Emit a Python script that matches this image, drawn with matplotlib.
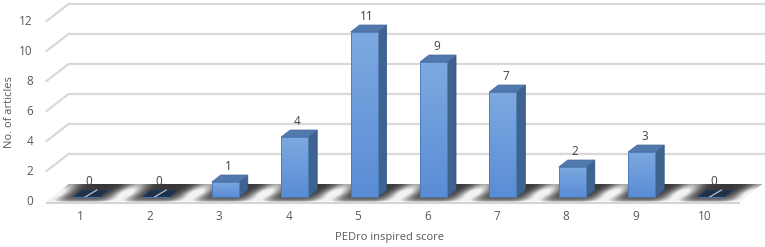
import numpy as np
import matplotlib.pyplot as plt
from matplotlib.patches import Polygon
from matplotlib.colors import LinearSegmentedColormap

# data
scores = [1, 2, 3, 4, 5, 6, 7, 8, 9, 10]
articles = [0, 0, 1, 4, 11, 9, 7, 2, 3, 0]
y_ticks = [0, 2, 4, 6, 8, 10, 12]

plt.rcParams['font.family'] = ['Open Sans', 'DejaVu Sans']
txt = '#595959'

fig = plt.figure(figsize=(7.65, 2.47), dpi=100)
ax = fig.add_axes([0, 0, 1, 1])
ax.set_xlim(-0.246, 10.777)
ax.set_ylim(-3.333, 13.133)
ax.axis('off')

# fake 3d: one unit of depth moves this far in x / y
ddx, ddy = 0.13, 0.467
d0, d1 = -0.67, 1.86   # floor front / back depth
w = 0.39
x_lo, x_hi = 0.5, 10.5

def pt(x, y, d):
    return (x + d * ddx, y + d * ddy)

# gridlines: left side wall + back wall
for v in y_ticks[1:]:
    a = pt(x_lo, v, d0)
    b = pt(x_lo, v, d1)
    ax.plot([a[0], b[0], 12], [a[1], b[1], b[1]], color='#d9d9d9', lw=1.6,
            solid_capstyle='butt', zorder=1)

# floor with shaded streaks between bars
fx0, fx1 = pt(x_lo, 0, d0)[0], pt(x_hi, 0, d1)[0]
fy0, fy1 = d0 * ddy, d1 * ddy
X, Y = np.meshgrid(np.linspace(fx0, fx1, 1200), np.linspace(fy0, fy1, 100))
D = Y / ddy
XP = X - D * ddx
ph = np.abs(XP - np.round(XP))
t = (D - d0) / (d1 - d0)
streak = np.exp(-((ph - 0.5) / 0.17) ** 2) * (0.45 + 0.55 * np.exp(-((t - 0.5) / 0.35) ** 2))
g = 0.22 + 0.55 * np.exp(-t / 0.16) + 0.85 * streak
g = np.clip(g, 0, 0.95)
floor_poly = Polygon([pt(x_lo, 0, d0), pt(x_hi, 0, d0), pt(x_hi, 0, d1), pt(x_lo, 0, d1)],
                     closed=True, fc='none', ec='none')
ax.add_patch(floor_poly)
im = ax.imshow(g, cmap='gray', vmin=0, vmax=1, origin='lower', aspect='auto',
               extent=[fx0, fx1, fy0, fy1], zorder=2, interpolation='bilinear')
im.set_clip_path(floor_poly)
# floor front edge
a, b = pt(x_lo, 0, d0), pt(x_hi, 0, d0)
ax.add_patch(Polygon([a, b, (b[0], b[1] - 0.14), (a[0], a[1] - 0.14)],
                     fc='#d4d4d4', ec='none', zorder=2))

# bars
cm = LinearSegmentedColormap.from_list('bar', ['#5a8dd6', '#7ea9e0'])
bars = ax.bar(scores, articles, width=w, color='none', edgecolor='#4a78b0',
              lw=0.6, zorder=4)
for x, v, r in zip(scores, articles, bars):
    l, rr = x - w / 2, x + w / 2
    if v == 0:
        ax.add_patch(Polygon([(l, 0), (rr, 0), pt(rr, 0, 1), pt(l, 0, 1)],
                             fc='#1d324a', ec='#2a4060', lw=0.5, zorder=3))
        ax.plot([x - 0.02, x + ddx + 0.02], [0, ddy], color='#b8c0c8', lw=0.9, zorder=3)
    else:
        ax.add_patch(Polygon([(rr, 0), pt(rr, 0, 1), pt(rr, v, 1), (rr, v)],
                             fc='#3e6391', ec='#34557f', lw=0.5, zorder=3))
        ax.add_patch(Polygon([(l, v), (rr, v), pt(rr, v, 1), pt(l, v, 1)],
                             fc='#5279ae', ec='#4a6d9e', lw=0.5, zorder=3))
        gi = ax.imshow(np.linspace(0, 1, 50).reshape(-1, 1), cmap=cm, origin='lower',
                       aspect='auto', extent=[l, rr, 0, v], zorder=3.5)
        gi.set_clip_path(r)
    ax.text(x + 0.04, v + ddy + 0.1, str(v), ha='center', va='bottom',
            fontsize=8.5, color='#404040', zorder=5)

# axis labels
for v in y_ticks:
    ax.text(0.229, v + d0 * ddy, str(v), ha='right', va='center', fontsize=8.5, color=txt)
for x in scores:
    ax.text(x + d0 * ddx, -1.33, str(x), ha='center', va='center', fontsize=8.5, color=txt)
ax.text(-0.102, 5.67, 'No. of articles', rotation=90, ha='center', va='center',
        fontsize=8, color=txt)
ax.text(5.37, -2.73, 'PEDro inspired score', ha='center', va='center',
        fontsize=8, color=txt)

fig.savefig('out.png', dpi=100)
